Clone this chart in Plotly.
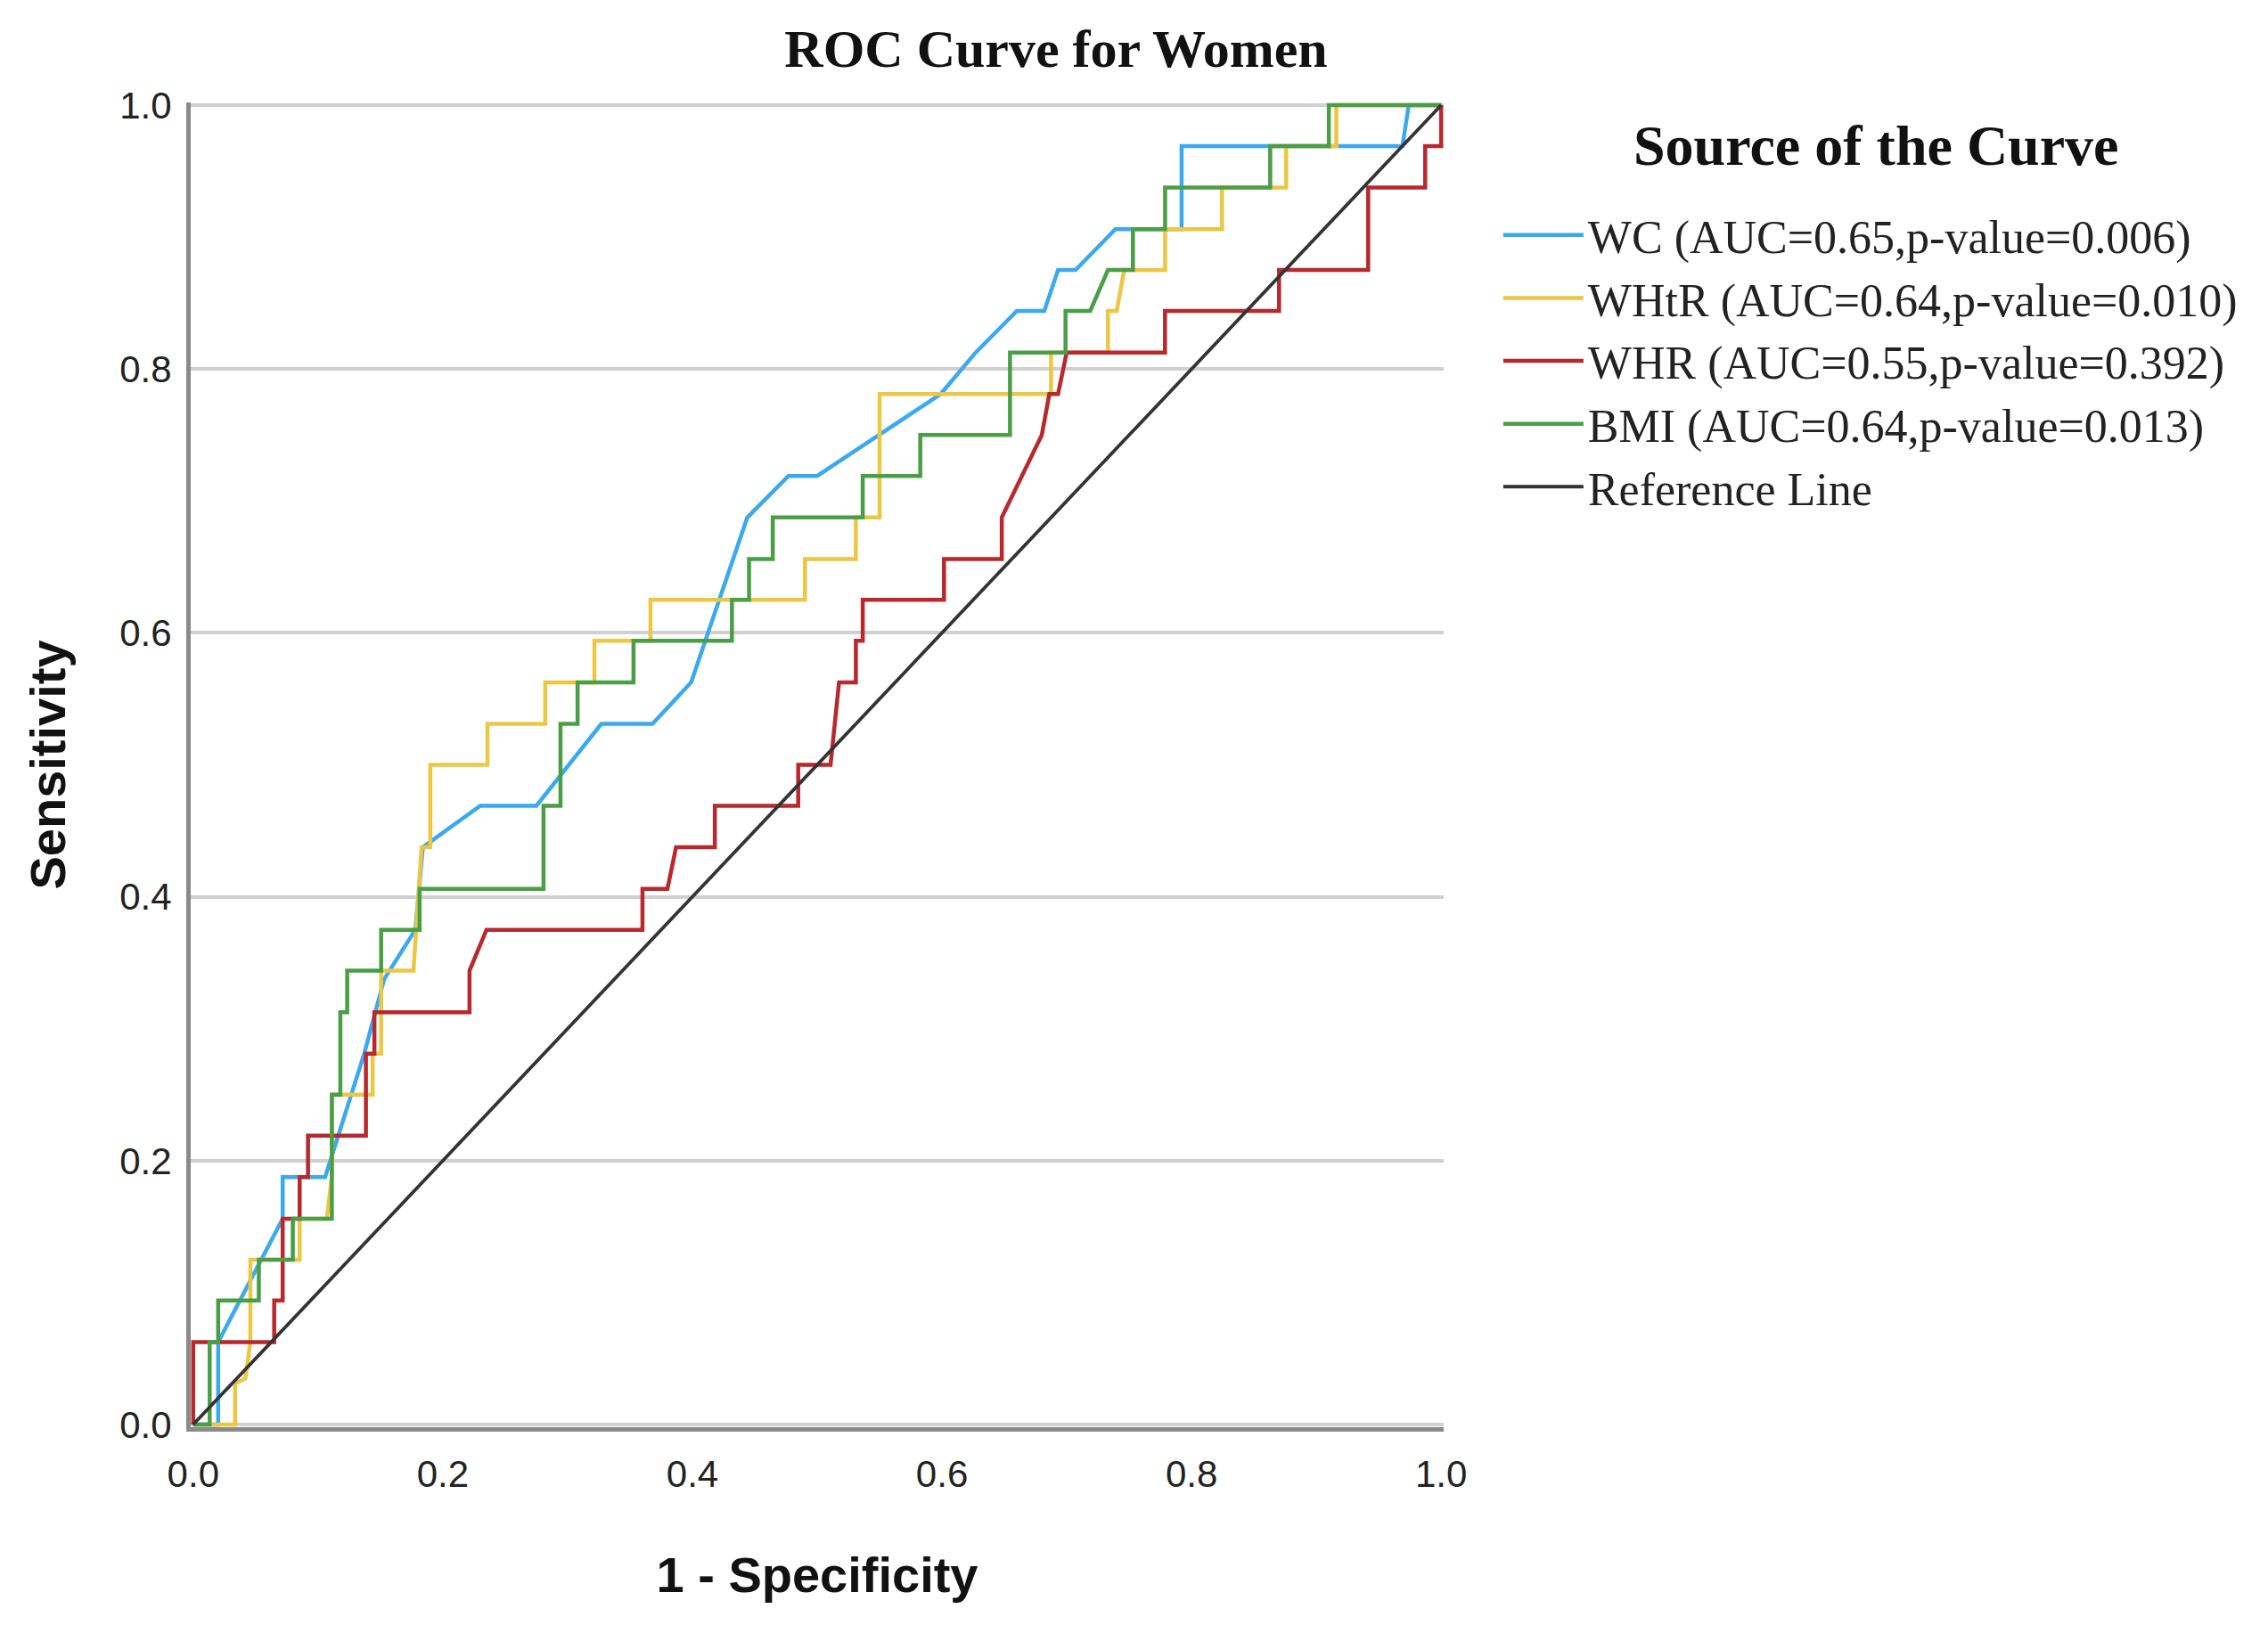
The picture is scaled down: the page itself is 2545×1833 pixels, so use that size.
import plotly.graph_objects as go

# ---- data (1 - specificity, sensitivity) ----
wc_x = [0, 0.020, 0.020, 0.0717, 0.0717, 0.1057, 0.137, 0.153, 0.178, 0.184, 0.230, 0.275, 0.327, 0.368,
        0.399, 0.444, 0.477, 0.500, 0.599, 0.627, 0.660, 0.682, 0.693, 0.707, 0.739, 0.792, 0.792, 0.969,
        0.974, 1.0]
wc_y = [0, 0, 0.0625, 0.156, 0.1875, 0.1875, 0.281, 0.3375, 0.375, 0.4375, 0.469, 0.469, 0.531, 0.531,
        0.5625, 0.6875, 0.719, 0.719, 0.781, 0.8125, 0.844, 0.844, 0.875, 0.875, 0.906, 0.906, 0.969, 0.969,
        1.0, 1.0]

whtr_x = [0, 0.0336, 0.0336, 0.0418, 0.0458, 0.0458, 0.0853, 0.0853, 0.107, 0.1111, 0.1111, 0.1438, 0.1438,
          0.1506, 0.1506, 0.1765, 0.183, 0.190, 0.190, 0.2358, 0.2358, 0.2821, 0.2821, 0.3215, 0.3215, 0.3664,
          0.3664, 0.4902, 0.4902, 0.531, 0.531, 0.550, 0.550, 0.6874, 0.6874, 0.733, 0.733, 0.740, 0.746,
          0.7788, 0.7788, 0.8244, 0.8244, 0.8758, 0.8758, 0.916, 0.916, 1.0]
whtr_y = [0, 0, 0.031, 0.035, 0.0625, 0.125, 0.125, 0.156, 0.156, 0.1875, 0.25, 0.25, 0.281, 0.281, 0.344,
          0.344, 0.4375, 0.4375, 0.5, 0.5, 0.531, 0.531, 0.5625, 0.5625, 0.594, 0.594, 0.625, 0.625, 0.656,
          0.656, 0.6875, 0.6875, 0.781, 0.781, 0.8125, 0.8125, 0.844, 0.844, 0.875, 0.875, 0.906, 0.906,
          0.9375, 0.9375, 0.969, 0.969, 1.0, 1.0]

whr_x = [0, 0, 0.0649, 0.0649, 0.0717, 0.0717, 0.0853, 0.0853, 0.092, 0.092, 0.1384, 0.1384, 0.1452, 0.1452,
         0.2214, 0.2214, 0.235, 0.360, 0.360, 0.380, 0.3869, 0.418, 0.418, 0.4848, 0.4848, 0.5107, 0.5175,
         0.531, 0.531, 0.5365, 0.5365, 0.6016, 0.6016, 0.6479, 0.6479, 0.680, 0.686, 0.693, 0.6999, 0.7787,
         0.7787, 0.8701, 0.8701, 0.9415, 0.9415, 0.9872, 0.9872, 1.0, 1.0]
whr_y = [0, 0.0625, 0.0625, 0.094, 0.094, 0.156, 0.156, 0.1875, 0.1875, 0.219, 0.219, 0.281, 0.281, 0.3125,
         0.3125, 0.344, 0.375, 0.375, 0.406, 0.406, 0.4375, 0.4375, 0.469, 0.469, 0.5, 0.5, 0.5625, 0.5625,
         0.594, 0.594, 0.625, 0.625, 0.656, 0.656, 0.6875, 0.75, 0.781, 0.781, 0.8125, 0.8125, 0.844, 0.844,
         0.875, 0.875, 0.9375, 0.9375, 0.969, 0.969, 1.0]

bmi_x = [0, 0.0132, 0.0132, 0.020, 0.020, 0.0526, 0.0526, 0.0798, 0.0798, 0.1111, 0.1111, 0.1179, 0.1179,
         0.1234, 0.1234, 0.1506, 0.1506, 0.1814, 0.1814, 0.2807, 0.2807, 0.2943, 0.2943, 0.308, 0.308, 0.3528,
         0.3528, 0.4317, 0.4317, 0.4454, 0.4454, 0.4644, 0.4644, 0.5365, 0.5365, 0.5826, 0.5826, 0.6545,
         0.6545, 0.699, 0.699, 0.7188, 0.733, 0.753, 0.753, 0.7788, 0.7788, 0.863, 0.863, 0.910, 0.910, 1.0]
bmi_y = [0, 0, 0.0625, 0.0625, 0.094, 0.094, 0.125, 0.125, 0.156, 0.156, 0.25, 0.25, 0.3125, 0.3125, 0.344,
         0.344, 0.375, 0.375, 0.406, 0.406, 0.469, 0.469, 0.531, 0.531, 0.5625, 0.5625, 0.594, 0.594, 0.625,
         0.625, 0.656, 0.656, 0.6875, 0.6875, 0.719, 0.719, 0.75, 0.75, 0.8125, 0.8125, 0.844, 0.844, 0.875,
         0.875, 0.906, 0.906, 0.9375, 0.9375, 0.969, 0.969, 1.0, 1.0]

ref_x = [0, 1]
ref_y = [0, 1]

names = ["WC (AUC=0.65,p-value=0.006)", "WHtR (AUC=0.64,p-value=0.010)",
         "WHR (AUC=0.55,p-value=0.392)", "BMI (AUC=0.64,p-value=0.013)", "Reference Line"]
colors = ["#3BA9F0", "#EBC744", "#B8282C", "#4A9E46", "#333333"]
tick_vals = [0.0, 0.2, 0.4, 0.6, 0.8, 1.0]
tick_text = ["0.0", "0.2", "0.4", "0.6", "0.8", "1.0"]
legend_title = "Source of the Curve"

series = [(wc_x, wc_y), (whtr_x, whtr_y), (whr_x, whr_y), (bmi_x, bmi_y), (ref_x, ref_y)]

fig = go.Figure()
for (xs, ys), nm, col in zip(series, names, colors):
    fig.add_trace(go.Scatter(x=xs, y=ys, mode="lines", name=nm,
                             line=dict(color=col, width=4.5 if nm != "Reference Line" else 3.8)))

sans = "Liberation Sans, Arial, sans-serif"
serif = "Liberation Serif, Times New Roman, serif"

fig.add_annotation(text=legend_title, xref="paper", yref="paper",
                   x=(2105 - 214) / 1406, y=(1602 - 164) / 1487, xanchor="center", yanchor="middle",
                   showarrow=False,
                   font=dict(family=serif, size=64, color="#111111", weight="bold"))

fig.update_layout(
    width=2545, height=1833,
    paper_bgcolor="white", plot_bgcolor="white",
    margin=dict(l=214, r=925, t=115, b=231),
    title=dict(text="ROC Curve for Women", x=1185 / 2545,
               xanchor="center", y=1 - 54 / 1833, yanchor="middle",
               font=dict(family=serif, size=60, color="#111111", weight="bold")),
    showlegend=True,
    legend=dict(
        x=1.044, xanchor="left", y=0.927, yanchor="top",
        font=dict(family=serif, size=52, color="#222222"),
        itemwidth=90, tracegroupgap=0, bgcolor="rgba(0,0,0,0)",
    ),
    xaxis=dict(
        range=[-0.002, 1.002], tickmode="array", tickvals=tick_vals, ticktext=tick_text,
        showgrid=False, zeroline=False, showline=True, linecolor="#8a8a8a", linewidth=5,
        ticks="", ticklabelstandoff=12,
        tickfont=dict(family=sans, size=42, color="#222222"),
        title=dict(text="1 - Specificity", standoff=72,
                   font=dict(family=sans, size=56, color="#111111", weight="bold")),
    ),
    yaxis=dict(
        range=[-0.002, 1.002], tickmode="array", tickvals=tick_vals, ticktext=tick_text,
        showgrid=True, gridcolor="#d0d0d0", gridwidth=4, zeroline=False,
        showline=True, linecolor="#8a8a8a", linewidth=5,
        ticks="", ticklabelstandoff=8,
        tickfont=dict(family=sans, size=42, color="#222222"),
        title=dict(text="Sensitivity", standoff=44,
                   font=dict(family=sans, size=56, color="#111111", weight="bold")),
    ),
)

fig.write_html("out.html", config={"displayModeBar": False},
               post_script="document.body.style.margin='0';document.body.style.overflow='hidden';")
